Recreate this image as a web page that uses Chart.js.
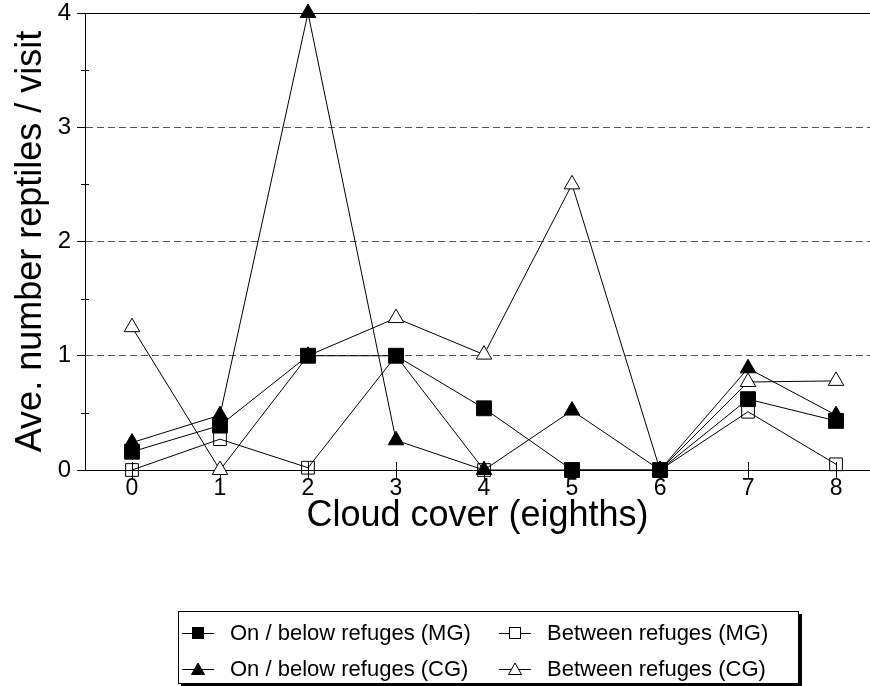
<!DOCTYPE html>
<html>
<head>
<meta charset="utf-8">
<script src="https://cdn.jsdelivr.net/npm/chart.js@4.4.1/dist/chart.umd.min.js"></script>
<style>
html, body { margin: 0; padding: 0; background: #fff; }
#wrap { position: relative; width: 870px; height: 686px; }
#legend {
    position: absolute; left: 178px; top: 611px; width: 619px; height: 71px;
    border: 1px solid #000; box-shadow: 3px 3px 0 #000; background: #fff;
    font-family: "Liberation Sans", Arial, sans-serif; font-size: 22px; color: #000;
}
#legend .item { position: absolute; display: flex; align-items: center; height: 30px; white-space: nowrap; }
#legend .item svg { margin-right: 16px; }
</style>
</head>
<body>
<div id="wrap">
    <canvas id="chart" width="870" height="686"></canvas>
    <div id="legend"></div>
</div>
<script>
const cloudCover = [0, 1, 2, 3, 4, 5, 6, 7, 8];
const onRefugesMG = [0.16, 0.39, 1.0, 1.0, 0.54, 0, 0, 0.62, 0.43];
const betweenMG = [0, 0.27, 0.02, 1.0, 0, 0, 0, 0.51, 0.05];
const onRefugesCG = [0.24, 0.48, 4.0, 0.26, 0, 0.52, 0, 0.89, 0.48];
const betweenCG = [1.25, 0, 1.0, 1.33, 1.01, 2.5, 0, 0.77, 0.78];
const yTicks = [0, 1, 2, 3, 4];

const font = '"Liberation Sans", Arial, sans-serif';

const series = [
    { label: 'On / below refuges (MG)', values: onRefugesMG, style: 'rect', fill: '#000', radius: 10.5 },
    { label: 'Between refuges (MG)', values: betweenMG, style: 'rect', fill: 'rgba(0,0,0,0)', radius: 9 },
    { label: 'On / below refuges (CG)', values: onRefugesCG, style: 'triangle', fill: '#000', radius: 9 },
    { label: 'Between refuges (CG)', values: betweenCG, style: 'triangle', fill: '#fff', radius: 9 }
];

// solid frame lines, minor ticks and the tick marks that cross the x axis
const axisMarks = {
    id: 'axisMarks',
    beforeDatasetsDraw(chart) {
        const {ctx, chartArea, scales: {x, y}} = chart;
        ctx.save();
        ctx.strokeStyle = '#000';
        ctx.lineWidth = 1;
        ctx.beginPath();
        [yTicks[0], yTicks[yTicks.length - 1]].forEach(v => {
            const py = Math.round(y.getPixelForValue(v)) + 0.5;
            ctx.moveTo(chartArea.left - 8, py);
            ctx.lineTo(chartArea.right, py);
        });
        y.ticks.forEach(t => {
            if (!Number.isInteger(t.value)) {
                const py = Math.round(y.getPixelForValue(t.value)) + 0.5;
                ctx.moveTo(chartArea.left - 4, py);
                ctx.lineTo(chartArea.left + 4, py);
            }
        });
        cloudCover.forEach(v => {
            const px = Math.round(x.getPixelForValue(v)) + 0.5;
            ctx.moveTo(px, chartArea.bottom - 8);
            ctx.lineTo(px, chartArea.bottom + 9);
        });
        ctx.stroke();
        ctx.restore();
    }
};

new Chart(document.getElementById('chart'), {
    type: 'line',
    data: {
        datasets: series.map(s => ({
            label: s.label,
            data: cloudCover.map((c, i) => ({ x: c, y: s.values[i] })),
            borderColor: '#000',
            borderWidth: 1,
            tension: 0,
            clip: false,
            pointStyle: s.style,
            pointRadius: s.radius,
            pointBackgroundColor: s.fill,
            pointBorderColor: '#000',
            pointBorderWidth: 1
        }))
    },
    options: {
        responsive: false,
        animation: false,
        layout: { autoPadding: false, padding: { left: 0, right: 0, top: 13, bottom: 146 } },
        plugins: {
            legend: { display: false },
            tooltip: { enabled: false }
        },
        scales: {
            x: {
                type: 'linear',
                min: -0.534,
                max: 8.386,
                afterBuildTicks: scale => { scale.ticks = cloudCover.map(v => ({ value: v })); },
                afterFit: scale => {
                    scale.height = 70;
                    scale.paddingLeft = 0;
                    scale.paddingRight = 0;
                },
                grid: { drawOnChartArea: false, drawTicks: false },
                border: { display: false },
                ticks: { color: '#000', padding: 5, font: { family: font, size: 23 } },
                title: {
                    display: true,
                    text: 'Cloud cover (eighths)',
                    color: '#000',
                    padding: { top: 0, bottom: 2 },
                    font: { family: font, size: 36 }
                }
            },
            y: {
                min: 0,
                max: 4,
                afterFit: scale => {
                    scale.width = 85;
                    scale.paddingTop = 0;
                    scale.paddingBottom = 0;
                },
                ticks: {
                    stepSize: 0.5,
                    color: '#000',
                    padding: 6,
                    font: { family: font, size: 24 },
                    callback: v => yTicks.includes(v) ? v : ''
                },
                grid: {
                    color: c => (c.tick && Number.isInteger(c.tick.value) && c.tick.value > 0 && c.tick.value < 4) ? '#555' : 'rgba(0,0,0,0)',
                    tickColor: c => (c.tick && Number.isInteger(c.tick.value)) ? '#000' : 'rgba(0,0,0,0)',
                    tickLength: 8,
                    lineWidth: 1
                },
                border: { display: true, color: '#000', width: 1, dash: [7, 4] },
                title: {
                    display: true,
                    text: 'Ave. number reptiles / visit',
                    color: '#000',
                    padding: { top: 9, bottom: 0 },
                    font: { family: font, size: 36 }
                }
            }
        }
    },
    plugins: [axisMarks]
});

// legend: two columns, two rows
function markerSvg(s) {
    let shape;
    if (s.style === 'rect') {
        shape = '<rect x="10.5" y="4.5" width="11" height="11" fill="' + (s.fill === '#000' ? '#000' : '#fff') + '" stroke="#000"/>';
    } else {
        shape = '<polygon points="16,4 22.5,15.5 9.5,15.5" fill="' + s.fill + '" stroke="#000"/>';
    }
    return '<svg width="32" height="20" viewBox="0 0 32 20"><line x1="0" y1="10.5" x2="32" y2="10.5" stroke="#000"/>' + shape + '</svg>';
}
const legendPos = [
    { left: 3, top: 6 }, { left: 320, top: 6 },
    { left: 3, top: 42 }, { left: 320, top: 42 }
];
const legend = document.getElementById('legend');
series.forEach((s, i) => {
    const item = document.createElement('div');
    item.className = 'item';
    item.style.left = legendPos[i].left + 'px';
    item.style.top = legendPos[i].top + 'px';
    item.innerHTML = markerSvg(s) + '<span>' + s.label + '</span>';
    legend.appendChild(item);
});
</script>
</body>
</html>
